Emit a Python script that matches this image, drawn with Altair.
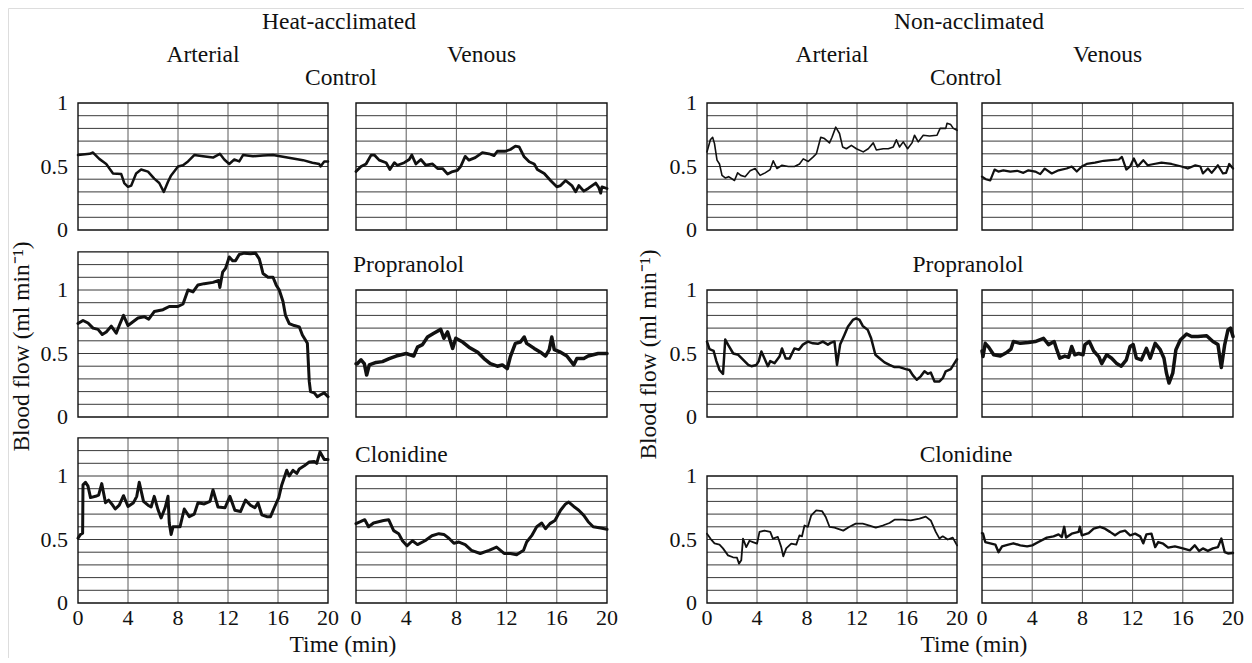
import altair as alt
import pandas as pd

FONT = "'Liberation Serif', 'Times New Roman', Times, serif"
INK = "#111111"
GRID_H = "#3a3a3a"
GRID_V = "#5a5a5a"

X_TICKS = [0, 4, 8, 12, 16, 20]
Y_TICKS = [0, 0.5, 1]
V_GRID = [4, 8, 12, 16]
H_GRID = [0.1, 0.2, 0.3, 0.4, 0.5, 0.6, 0.7, 0.8, 0.9, 1.0, 1.1, 1.2]

# (time in min, blood flow in ml/min)
HA_CTRL_ART = [(0,.59),(.93,.60),(1.2,.61),(1.7,.56),(2.26,.52),(2.8,.445),(3.46,.44),(3.7,.37),(4.0,.34),(4.26,.35),(4.65,.445),(5.05,.476),(5.6,.46),(6.1,.405),(6.5,.37),(6.86,.30),(7.2,.38),(7.45,.43),(8.0,.50),(8.4,.51),(8.8,.54),(9.3,.59),(10.0,.58),(10.8,.57),(11.35,.60),(11.7,.555),(12.1,.52),(12.5,.555),(12.9,.54),(13.2,.59),(14.0,.58),(14.8,.586),(15.6,.59),(16.4,.576),(17.2,.563),(18.0,.55),(18.75,.53),(19.3,.52),(19.4,.50),(19.7,.54),(20,.54)]
HA_CTRL_VEN = [(0,.46),(.4,.50),(.8,.52),(1.2,.59),(1.46,.59),(1.85,.55),(2.4,.53),(2.7,.476),(3.05,.53),(3.3,.51),(3.84,.53),(4.24,.555),(4.45,.59),(4.77,.52),(5.17,.555),(5.56,.51),(6.1,.52),(6.5,.484),(6.9,.484),(7.3,.44),(7.7,.46),(8.08,.47),(8.34,.50),(8.7,.58),(9.0,.55),(9.5,.57),(10.07,.61),(10.6,.60),(11.0,.586),(11.26,.62),(11.9,.62),(12.3,.634),(12.7,.66),(13.0,.654),(13.4,.576),(13.8,.537),(14.2,.52),(14.45,.476),(15.0,.445),(15.5,.39),(16.0,.34),(16.3,.35),(16.7,.39),(17.2,.35),(17.5,.30),(17.75,.35),(18.15,.306),(18.5,.327),(19.1,.37),(19.34,.335),(19.5,.29),(19.6,.34),(20,.327)]
HA_PROP_ART = [(0,.736),(.4,.76),(.8,.74),(1.2,.70),(1.6,.69),(1.94,.65),(2.26,.67),(2.66,.715),(3.06,.66),(3.3,.72),(3.64,.80),(4.0,.72),(4.4,.75),(4.8,.78),(5.3,.79),(5.66,.77),(6.1,.83),(6.8,.845),(7.3,.87),(8.0,.87),(8.4,.89),(8.8,1.0),(9.2,.985),(9.6,1.04),(10.1,1.05),(10.8,1.06),(11.25,1.075),(11.35,1.02),(11.57,1.14),(11.8,1.17),(12.1,1.26),(12.37,1.23),(12.6,1.23),(12.9,1.28),(13.3,1.29),(13.8,1.285),(14.2,1.29),(14.5,1.245),(14.65,1.19),(14.8,1.13),(15.2,1.10),(15.6,1.10),(15.85,1.04),(16.1,1.0),(16.4,.91),(16.6,.80),(16.9,.736),(17.3,.72),(17.7,.71),(17.95,.645),(18.35,.58),(18.5,.28),(18.6,.20),(18.9,.19),(19.15,.16),(19.4,.175),(19.7,.19),(20,.16)]
HA_PROP_VEN = [(0,.42),(.1,.42),(.4,.45),(.66,.42),(.85,.33),(1.06,.41),(1.6,.43),(2.1,.436),(2.65,.46),(3.2,.48),(4.0,.50),(4.6,.48),(4.9,.55),(5.3,.57),(5.7,.63),(6.2,.66),(6.75,.69),(7.0,.62),(7.3,.67),(7.7,.54),(7.95,.62),(8.5,.59),(9.0,.55),(9.7,.51),(10.2,.46),(10.7,.42),(11.26,.40),(11.66,.41),(12.05,.38),(12.3,.475),(12.7,.58),(13.1,.59),(13.4,.63),(13.6,.58),(14.2,.54),(14.7,.51),(15.1,.48),(15.4,.53),(15.6,.63),(15.8,.53),(16.3,.51),(16.8,.48),(17.35,.41),(17.6,.46),(18.15,.46),(18.5,.48),(18.9,.49),(19.3,.50),(20,.50)]
HA_CLON_ART = [(0,.51),(.2,.54),(.37,.55),(.4,.93),(.6,.95),(.8,.92),(1.0,.83),(1.4,.84),(1.65,.85),(1.9,.94),(2.2,.79),(2.45,.81),(2.7,.78),(2.98,.74),(3.3,.77),(3.64,.845),(4.0,.76),(4.44,.79),(4.7,.84),(4.9,.95),(5.24,.80),(5.6,.77),(5.85,.756),(6.1,.84),(6.4,.735),(6.65,.67),(6.97,.75),(7.2,.84),(7.3,.63),(7.45,.54),(7.6,.60),(8.16,.60),(8.5,.74),(8.9,.68),(9.3,.70),(9.6,.79),(10.1,.78),(10.56,.80),(10.8,.89),(11.2,.756),(11.76,.75),(12.15,.84),(12.55,.73),(13.0,.72),(13.4,.81),(13.8,.77),(14.15,.75),(14.4,.79),(14.7,.695),(15.1,.68),(15.4,.68),(15.7,.75),(16.06,.83),(16.3,.93),(16.7,1.045),(16.9,1.0),(17.2,1.045),(17.5,1.02),(17.7,1.055),(18.1,1.08),(18.5,1.11),(18.9,1.115),(19.1,1.10),(19.36,1.19),(19.7,1.13),(20,1.13)]
HA_CLON_VEN = [(0,.625),(.35,.64),(.7,.656),(1.0,.60),(1.4,.63),(1.8,.64),(2.2,.65),(2.6,.656),(3.0,.57),(3.4,.546),(3.7,.49),(4.06,.45),(4.5,.49),(4.9,.46),(5.5,.49),(6.05,.53),(6.6,.546),(7.0,.54),(7.4,.51),(7.8,.47),(8.2,.48),(8.7,.46),(9.2,.415),(9.9,.39),(10.6,.415),(11.2,.44),(11.8,.39),(12.3,.39),(12.8,.38),(13.35,.415),(13.6,.48),(14.0,.53),(14.4,.60),(14.8,.63),(15.1,.585),(15.45,.625),(15.85,.65),(16.3,.73),(16.7,.78),(16.95,.795),(17.35,.76),(17.75,.73),(18.15,.69),(18.5,.64),(18.9,.60),(19.5,.59),(20,.58)]
NA_CTRL_ART = [(0,.615),(.27,.71),(.45,.73),(.6,.68),(.8,.55),(1.0,.52),(1.2,.43),(1.46,.41),(1.73,.42),(2.2,.39),(2.45,.45),(2.7,.43),(3.05,.42),(3.45,.466),(3.85,.484),(4.25,.43),(4.65,.45),(5.05,.476),(5.3,.545),(5.6,.484),(6.0,.51),(6.5,.50),(7.0,.50),(7.4,.52),(7.7,.56),(8.1,.54),(8.5,.576),(8.75,.60),(9.1,.73),(9.4,.72),(9.8,.686),(10.0,.73),(10.3,.81),(10.6,.76),(10.85,.654),(11.15,.64),(11.55,.667),(11.95,.64),(12.5,.615),(12.9,.64),(13.3,.686),(13.55,.63),(14.1,.64),(14.5,.64),(14.9,.654),(15.15,.71),(15.4,.654),(15.7,.694),(16.05,.64),(16.4,.686),(16.6,.746),(16.9,.694),(17.3,.746),(17.8,.74),(18.4,.746),(18.65,.80),(19.1,.80),(19.2,.84),(19.5,.83),(19.7,.80),(20,.785)]
NA_CTRL_VEN = [(0,.42),(.3,.40),(.66,.39),(1.0,.476),(1.3,.46),(1.7,.47),(2.25,.46),(2.8,.466),(3.3,.45),(3.7,.47),(4.24,.46),(4.64,.44),(5.0,.484),(5.56,.445),(6.1,.47),(6.75,.484),(7.15,.50),(7.55,.46),(7.95,.50),(8.34,.52),(9.0,.53),(9.7,.545),(10.3,.55),(10.9,.555),(11.15,.576),(11.5,.476),(11.8,.50),(12.1,.563),(12.4,.50),(12.85,.55),(13.2,.51),(13.7,.52),(14.3,.53),(15.1,.52),(15.9,.50),(16.4,.484),(17.0,.51),(17.4,.50),(17.6,.445),(18.0,.484),(18.3,.45),(18.8,.51),(19.2,.445),(19.45,.45),(19.7,.52),(20,.484)]
NA_PROP_ART = [(0,.594),(.2,.534),(.53,.52),(.75,.44),(1.0,.37),(1.28,.34),(1.46,.61),(1.68,.57),(2.1,.50),(2.5,.49),(2.9,.45),(3.3,.41),(3.55,.40),(3.95,.41),(4.14,.44),(4.35,.516),(4.6,.46),(4.87,.40),(5.06,.44),(5.4,.424),(5.8,.476),(6.0,.54),(6.3,.46),(6.6,.46),(7.0,.54),(7.35,.53),(7.67,.57),(8.07,.594),(8.47,.58),(8.87,.576),(9.27,.594),(9.67,.57),(9.93,.586),(10.2,.594),(10.4,.41),(10.65,.57),(11.0,.647),(11.27,.71),(11.67,.764),(11.93,.777),(12.2,.764),(12.46,.717),(12.86,.686),(13.13,.62),(13.47,.49),(13.8,.463),(14.2,.43),(14.6,.41),(15.0,.393),(15.4,.393),(15.9,.377),(16.2,.37),(16.46,.33),(16.78,.293),(17.1,.32),(17.4,.36),(17.66,.34),(17.9,.35),(18.2,.28),(18.6,.28),(18.86,.306),(19.1,.36),(19.5,.377),(19.8,.424),(20,.455)]
NA_PROP_VEN = [(0,.52),(.08,.476),(.26,.58),(.53,.55),(.93,.49),(1.46,.48),(2.0,.51),(2.3,.534),(2.5,.594),(3.05,.58),(3.7,.586),(4.24,.594),(4.9,.62),(5.3,.57),(5.75,.594),(5.96,.53),(6.2,.463),(6.6,.48),(6.9,.47),(7.15,.555),(7.4,.49),(7.7,.50),(8.05,.49),(8.2,.57),(8.55,.594),(8.9,.52),(9.3,.476),(9.54,.42),(9.93,.49),(10.33,.463),(10.7,.424),(11.1,.40),(11.5,.45),(11.8,.555),(12.05,.57),(12.3,.463),(12.7,.45),(13.1,.54),(13.4,.463),(13.8,.58),(14.2,.53),(14.5,.463),(14.7,.345),(14.9,.267),(15.2,.345),(15.45,.53),(15.8,.607),(16.3,.654),(16.7,.634),(17.2,.634),(17.9,.64),(18.4,.594),(18.8,.57),(19.07,.39),(19.34,.57),(19.6,.686),(19.8,.70),(20,.634)]
NA_CLON_ART = [(0,.546),(.27,.507),(.6,.47),(1.0,.46),(1.28,.43),(1.68,.375),(2.08,.36),(2.4,.357),(2.56,.31),(2.74,.336),(2.88,.507),(3.14,.44),(3.4,.49),(3.67,.48),(4.0,.467),(4.2,.56),(4.6,.57),(5.06,.56),(5.27,.507),(5.67,.52),(5.94,.44),(6.1,.367),(6.34,.43),(6.74,.467),(7.14,.46),(7.4,.533),(7.6,.525),(7.8,.61),(8.07,.60),(8.34,.69),(8.74,.73),(9.2,.724),(9.5,.677),(9.8,.60),(10.2,.593),(10.9,.57),(11.4,.60),(11.9,.625),(12.46,.625),(13.0,.61),(13.5,.593),(14.06,.61),(14.6,.63),(15.0,.656),(15.66,.656),(16.3,.65),(17.0,.664),(17.5,.68),(17.9,.65),(18.3,.56),(18.6,.507),(18.86,.525),(19.26,.50),(19.66,.515),(20,.454)]
NA_CLON_VEN = [(0,.55),(.08,.546),(.26,.48),(.66,.47),(1.06,.46),(1.32,.40),(1.6,.446),(2.1,.46),(2.5,.47),(3.05,.454),(3.6,.446),(4.0,.454),(4.5,.48),(5.17,.515),(5.7,.525),(6.1,.54),(6.36,.52),(6.55,.60),(6.7,.515),(7.15,.546),(7.7,.56),(7.8,.60),(7.95,.533),(8.5,.55),(8.9,.585),(9.4,.60),(9.8,.585),(10.2,.56),(10.6,.533),(11.0,.56),(11.4,.57),(11.8,.533),(12.2,.546),(12.6,.525),(12.85,.47),(13.1,.54),(13.5,.546),(13.8,.44),(14.04,.48),(14.44,.467),(14.83,.436),(15.37,.446),(16.0,.43),(16.56,.415),(16.95,.454),(17.3,.41),(17.6,.43),(18.0,.41),(18.4,.43),(18.8,.44),(19.07,.507),(19.34,.40),(19.6,.39),(20,.394)]

TITLE_SIZE = 23.5
TICK_SIZE = 22
YTITLE = "Blood flow (ml min\u207b\u00b9)"

# ---- layout (pixels inside the plot area) ----
SHIFT = -4                     # keeps the right-most tick label inside the page
UNIT = 127                     # pixels per 1 ml/min
COL_LEFT = {"HA_A": 74 + SHIFT, "HA_V": 352 + SHIFT, "NA_A": 703 + SHIFT, "NA_V": 978 + SHIFT}
COL_W = {"HA_A": 250, "HA_V": 251, "NA_A": 250, "NA_V": 251}
ROW_BOTTOM = {"ctrl": 222, "prop": 409, "clon": 595}


def panel(series, col, row, frame_top, sw, show_y, show_x):
    x0 = COL_LEFT[col]
    xs = alt.Scale(domain=[0, 20], range=[x0, x0 + COL_W[col]], nice=False, zero=False)
    yb = ROW_BOTTOM[row]
    ys = alt.Scale(domain=[0, 1], range=[yb, yb - UNIT], nice=False, zero=False)

    df = pd.DataFrame(series, columns=["t", "v"])
    hg = pd.DataFrame({"g": [g for g in H_GRID if g < frame_top - 1e-6]})
    hg["a"], hg["b"] = 0, 20
    vg = pd.DataFrame({"x": V_GRID, "y0": 0.0, "y1": frame_top})
    fr = pd.DataFrame({"x0": [0], "x1": [20], "y0": [0.0], "y1": [frame_top]})

    layers = [
        alt.Chart(hg).mark_rule(color=GRID_H, strokeWidth=1).encode(
            x=alt.X("a:Q", scale=xs, axis=None), x2="b:Q",
            y=alt.Y("g:Q", scale=ys, axis=None)),
        alt.Chart(vg).mark_rule(color=GRID_V, strokeWidth=1).encode(
            x=alt.X("x:Q", scale=xs, axis=None),
            y=alt.Y("y0:Q", scale=ys, axis=None), y2="y1:Q"),
        alt.Chart(fr).mark_rect(fillOpacity=0, stroke=INK, strokeWidth=1.4).encode(
            x=alt.X("x0:Q", scale=xs, axis=None), x2="x1:Q",
            y=alt.Y("y0:Q", scale=ys, axis=None), y2="y1:Q"),
        alt.Chart(df).mark_line(color=INK, strokeWidth=sw, strokeJoin="round",
                                strokeCap="round").encode(
            x=alt.X("t:Q", scale=xs, axis=None),
            y=alt.Y("v:Q", scale=ys, axis=None)),
    ]
    if show_x:
        xt = pd.DataFrame({"t": X_TICKS, "z": 0.0})
        layers.append(alt.Chart(xt).mark_text(
            font=FONT, fontSize=TICK_SIZE, color=INK, align="center",
            baseline="alphabetic", dy=22).encode(
            x=alt.X("t:Q", scale=xs, axis=None),
            y=alt.Y("z:Q", scale=ys, axis=None),
            text=alt.Text("t:Q", format="~g")))
    if show_y:
        yt = pd.DataFrame({"v": Y_TICKS, "z": 0.0})
        layers.append(alt.Chart(yt).mark_text(
            font=FONT, fontSize=TICK_SIZE, color=INK, align="right",
            baseline="middle", dx=-10).encode(
            x=alt.X("z:Q", scale=xs, axis=None),
            y=alt.Y("v:Q", scale=ys, axis=None),
            text=alt.Text("v:Q", format="~g")))
    return alt.layer(*layers)


def label(s, x, y, align="center", angle=0):
    return alt.Chart(pd.DataFrame({"s": [s]})).mark_text(
        font=FONT, fontSize=TITLE_SIZE, color=INK, align=align,
        baseline="alphabetic", angle=angle
    ).encode(x=alt.value(x + SHIFT), y=alt.value(y), text="s:N")


panels = [
    panel(HA_CTRL_ART, "HA_A", "ctrl", 1.0, 2.5, True, False),
    panel(HA_CTRL_VEN, "HA_V", "ctrl", 1.0, 2.8, False, False),
    panel(HA_PROP_ART, "HA_A", "prop", 1.3, 3.0, True, False),
    panel(HA_PROP_VEN, "HA_V", "prop", 1.0, 3.5, False, False),
    panel(HA_CLON_ART, "HA_A", "clon", 1.3, 3.0, True, True),
    panel(HA_CLON_VEN, "HA_V", "clon", 1.0, 3.0, False, True),
    panel(NA_CTRL_ART, "NA_A", "ctrl", 1.0, 1.6, True, False),
    panel(NA_CTRL_VEN, "NA_V", "ctrl", 1.0, 2.2, False, False),
    panel(NA_PROP_ART, "NA_A", "prop", 1.0, 2.5, True, False),
    panel(NA_PROP_VEN, "NA_V", "prop", 1.0, 3.5, False, False),
    panel(NA_CLON_ART, "NA_A", "clon", 1.0, 1.8, True, True),
    panel(NA_CLON_VEN, "NA_V", "clon", 1.0, 2.4, False, True),
]

labels = [
    label("Heat-acclimated", 335, 20.5),
    label("Non-acclimated", 965, 20.5),
    label("Arterial", 199, 53.7),
    label("Venous", 477.5, 53.7),
    label("Arterial", 828, 53.7),
    label("Venous", 1103.5, 53.7),
    label("Control", 337, 77),
    label("Control", 962, 77),
    label("Propranolol", 349, 263.7, "left"),
    label("Propranolol", 964, 263.7),
    label("Clonidine", 351, 453.7, "left"),
    label("Clonidine", 962, 453.7),
    label(YTITLE, 25, 338.5, "center", 270),
    label(YTITLE, 652, 346.5, "center", 270),
    label("Time (min)", 339, 644),
    label("Time (min)", 970, 644),
]

chart = alt.layer(*panels, *labels).resolve_scale(
    x="independent", y="independent"
).properties(
    width=1236, height=650, padding=0,
    autosize=alt.AutoSizeParams(type="none")
).configure_view(stroke="transparent").configure(background="white")

chart.save("out.html", embed_options={"renderer": "svg", "actions": False})
